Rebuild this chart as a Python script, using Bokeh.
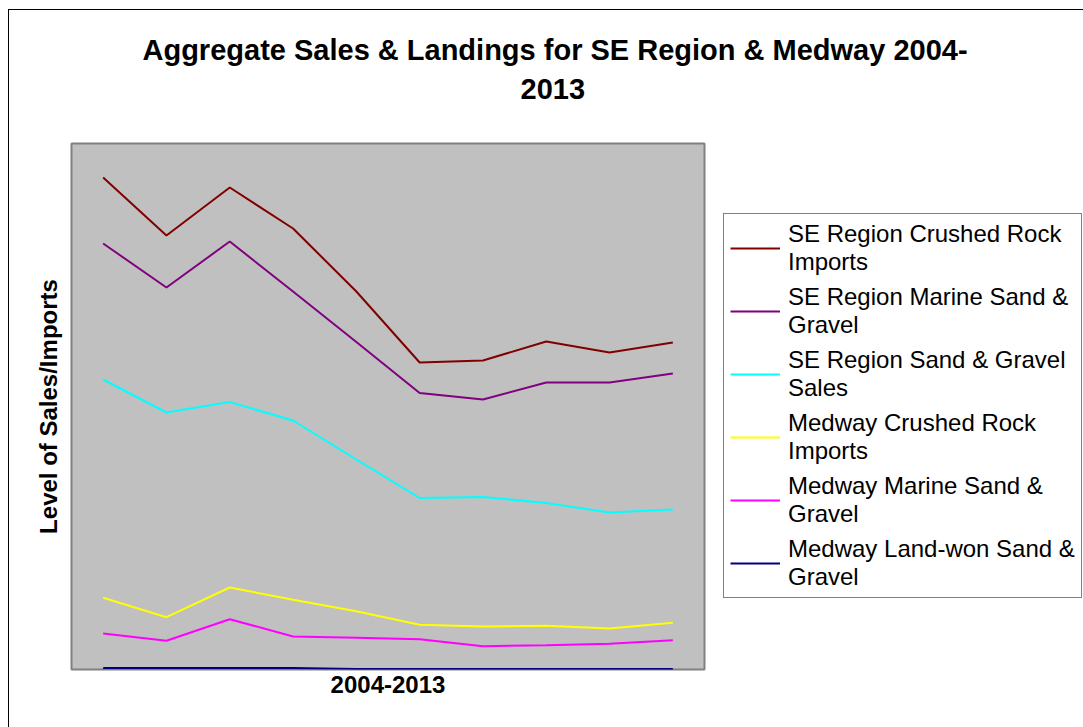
from bokeh.plotting import figure
from bokeh.models import Range1d, FixedTicker, Legend, LegendItem, Title, ColumnDataSource
from bokeh.embed import file_html
from bokeh.resources import INLINE

years = [2004, 2005, 2006, 2007, 2008, 2009, 2010, 2011, 2012, 2013]

se_crushed_rock = [4920, 4340, 4820, 4410, 3780, 3070, 3090, 3280, 3170, 3270]
se_marine_sg = [4260, 3820, 4280, 3780, 3275, 2765, 2700, 2870, 2870, 2960]
se_sg_sales = [2900, 2570, 2675, 2490, 2100, 1715, 1725, 1665, 1570, 1600]
medway_crushed_rock = [717, 523, 820, 697, 583, 447, 430, 437, 410, 467]
medway_marine_sg = [360, 287, 503, 330, 317, 303, 233, 243, 257, 293]
medway_landwon_sg = [15, 15, 15, 15, 5, 5, 5, 5, 5, 5]

series_names = [
    "SE Region Crushed Rock\nImports",
    "SE Region Marine Sand &\nGravel",
    "SE Region Sand & Gravel\nSales",
    "Medway Crushed Rock\nImports",
    "Medway Marine Sand &\nGravel",
    "Medway Land-won Sand &\nGravel",
]
series_values = [se_crushed_rock, se_marine_sg, se_sg_sales,
                 medway_crushed_rock, medway_marine_sg, medway_landwon_sg]
colors = ["#800000", "#800080", "#00FFFF", "#FFFF00", "#FF00FF", "#000080"]

title_lines = ["Aggregate Sales & Landings for SE Region & Medway 2004-", "2013"]

FONT = "Liberation Sans"

p = figure(frame_width=633, frame_height=526, output_backend="svg", toolbar_location=None,
           x_range=Range1d(2003.5, 2013.5), y_range=Range1d(0, 5260),
           min_border_left=62, min_border_right=0, min_border_top=133, min_border_bottom=58,
           x_axis_label="2004-2013", y_axis_label="Level of Sales/Imports")

p.background_fill_color = "#C0C0C0"
p.border_fill_color = "white"
p.outline_line_color = "#808080"
p.outline_line_width = 2
p.xgrid.visible = False
p.ygrid.visible = False

for ax in (p.xaxis, p.yaxis):
    ax.ticker = FixedTicker(ticks=[])
    ax.axis_line_color = None
    ax.major_tick_line_color = None
    ax.minor_tick_line_color = None
    ax.major_label_text_font_size = "0px"
    ax.major_label_standoff = 0
    ax.axis_label_text_font = FONT
    ax.axis_label_text_font_style = "bold"
    ax.axis_label_text_font_size = "24px"
    ax.axis_label_text_color = "black"
p.xaxis.axis_label_standoff = 6
p.yaxis.axis_label_standoff = 10

items = []
for name, vals, c in zip(series_names, series_values, colors):
    src = ColumnDataSource(dict(x=years, y=vals))
    r = p.line("x", "y", source=src, line_color=c, line_width=2)
    items.append(LegendItem(label=name, renderers=[r]))

legend = Legend(items=items, location=(19, 71), orientation="vertical")
legend.label_text_font = FONT
legend.label_text_font_size = "24px"
legend.label_text_color = "black"
legend.label_text_line_height = 1.15
legend.glyph_width = 50
legend.glyph_height = 28
legend.label_standoff = 8
legend.padding = 6
legend.spacing = 7
legend.margin = 0
legend.border_line_color = "black"
legend.border_line_width = 1
legend.background_fill_color = "white"
legend.background_fill_alpha = 1
p.add_layout(legend, "right")

# second line closest to the frame, first line above it
t2 = Title(text=title_lines[1], align="left", offset=449, standoff=90,
           text_font=FONT, text_font_style="bold", text_font_size="29px", text_color="black")
t1 = Title(text=title_lines[0], align="left", offset=71, standoff=-69,
           text_font=FONT, text_font_style="bold", text_font_size="29px", text_color="black")
p.add_layout(t2, "above")
p.add_layout(t1, "above")

p.styles = {"margin-left": "8px", "margin-top": "9px",
            "border-left": "1px solid black", "border-top": "1px solid black"}

open("out.html", "w").write(file_html(p, INLINE))
